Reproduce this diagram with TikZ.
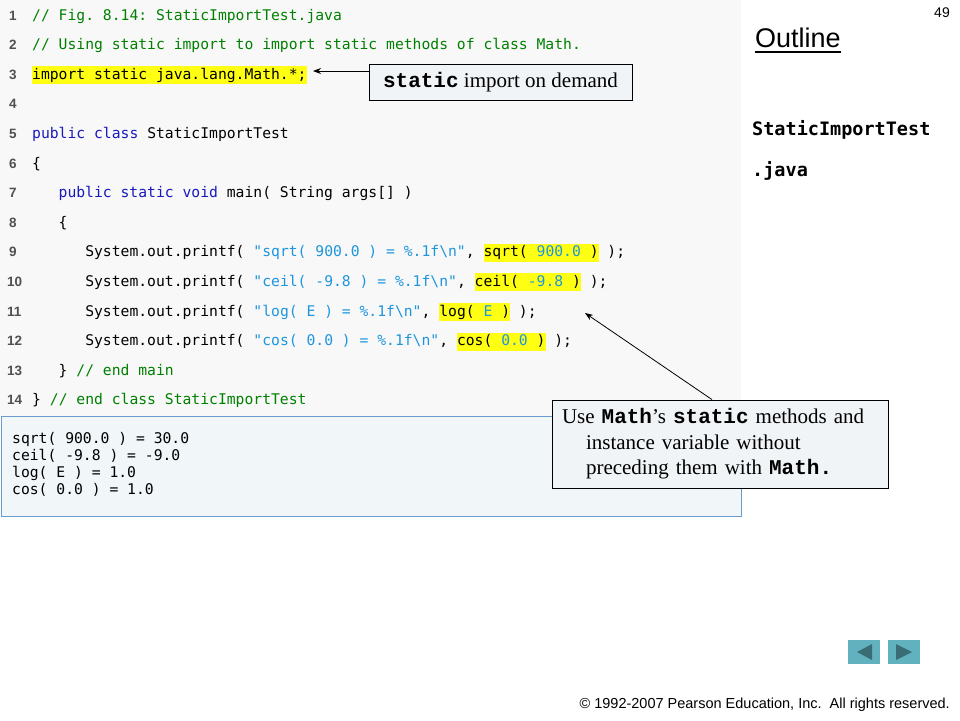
\documentclass[tikz,border=0pt]{standalone}
\usepackage{fontspec}
\setmainfont{Liberation Serif}
\newfontfamily\codefont{DejaVu Sans Mono}
\newfontfamily\arialfont{Liberation Sans}
\newfontfamily\courfont{Liberation Mono}
\usetikzlibrary{arrows.meta}

\definecolor{codebg}{RGB}{248,248,248}
\definecolor{outbg}{RGB}{241,246,248}
\definecolor{outborder}{RGB}{105,155,205}
\definecolor{callbg}{RGB}{240,244,246}
\definecolor{cmtgreen}{RGB}{0,128,0}
\definecolor{kwblue}{RGB}{25,25,190}
\definecolor{strblue}{RGB}{30,150,220}
\definecolor{hlyellow}{RGB}{255,255,20}
\definecolor{lngray}{RGB}{80,80,80}
\definecolor{navteal}{RGB}{98,177,191}
\definecolor{navdark}{RGB}{58,108,118}

\newcommand{\kw}[1]{\textcolor{kwblue}{#1}}
\newcommand{\cmt}[1]{\textcolor{cmtgreen}{#1}}
\newcommand{\jstr}[1]{\textcolor{strblue}{#1}}
\newcommand{\hlt}[1]{{\setlength{\fboxsep}{0pt}\colorbox{hlyellow}{\rule[-5pt]{0pt}{18pt}#1}}}
\newcommand{\cb}[1]{{\courfont\bfseries #1}}

\begin{document}
\begin{tikzpicture}[x=1pt,y=-1pt,
    lnum/.style={anchor=base west, inner sep=0pt, text=lngray,
      font=\arialfont\bfseries\fontsize{13.5}{15}\selectfont},
    code/.style={anchor=base west, inner sep=0pt,
      font=\codefont\fontsize{14.7}{17}\selectfont\frenchspacing},
    callout/.style={draw=black, fill=callbg, line width=0.8pt, inner sep=0pt,
      font=\fontsize{21}{25.5}\selectfont},
    arrowline/.style={-{Stealth[length=8pt,width=6pt]}, line width=0.8pt}]
  \useasboundingbox (0,0) rectangle (960,720);

  % Draw the code panel and the output box
  \fill[codebg] (0,0) rectangle (741,416);
  \draw[outborder, fill=outbg, line width=0.8pt] (1,416) rectangle (741,516);

  % Line numbers
  \node[lnum] (n1) at (9,20) {1};
  \node[lnum] (n2) at (9,49.6) {2};
  \node[lnum] (n3) at (9,79.2) {3};
  \node[lnum] (n4) at (9,108.8) {4};
  \node[lnum] (n5) at (9,138.4) {5};
  \node[lnum] (n6) at (9,168) {6};
  \node[lnum] (n7) at (9,197.6) {7};
  \node[lnum] (n8) at (9,227.2) {8};
  \node[lnum] (n9) at (9,256.8) {9};
  \node[lnum] (n10) at (7,286.4) {10};
  \node[lnum] (n11) at (7,316) {11};
  \node[lnum] (n12) at (7,345.6) {12};
  \node[lnum] (n13) at (7,375.2) {13};
  \node[lnum] (n14) at (7,404.8) {14};

  % Code lines
  \node[code] (c1) at (32,20) {\cmt{// Fig. 8.14: StaticImportTest.java}};
  \node[code] (c2) at (32,49.6) {\cmt{// Using static import to import static methods of class Math.}};
  \node[code] (c3) at (32,79.2) {\hlt{import static java.lang.Math.*;}};
  \node[code] (c5) at (32,138.4) {\kw{public class} StaticImportTest};
  \node[code] (c6) at (32,168) {\{};
  \node[code] (c7) at (58.5,197.6) {\kw{public static void} main( String args[] )};
  \node[code] (c8) at (58.5,227.2) {\{};
  \node[code] (c9) at (85.1,256.8) {System.out.printf( \jstr{"sqrt( 900.0 ) = \%.1f\textbackslash n"}, \hlt{sqrt( \jstr{900.0} )} );};
  \node[code] (c10) at (85.1,286.4) {System.out.printf( \jstr{"ceil( -9.8 ) = \%.1f\textbackslash n"}, \hlt{ceil( \jstr{-9.8} )} );};
  \node[code] (c11) at (85.1,316) {System.out.printf( \jstr{"log( E ) = \%.1f\textbackslash n"}, \hlt{log( \jstr{E} )} );};
  \node[code] (c12) at (85.1,345.6) {System.out.printf( \jstr{"cos( 0.0 ) = \%.1f\textbackslash n"}, \hlt{cos( \jstr{0.0} )} );};
  \node[code] (c13) at (58.5,375.2) {\} \cmt{// end main}};
  \node[code] (c14) at (32,404.8) {\} \cmt{// end class StaticImportTest}};

  % Program output
  \node[code, anchor=north west, align=left] (out) at (12,432)
    {sqrt( 900.0 ) = 30.0\\ceil( -9.8 ) = -9.0\\log( E ) = 1.0\\cos( 0.0 ) = 1.0};

  % Callouts
  \node[callout, minimum width=263pt, minimum height=36pt] (callA) at (500.5,82)
    {\cb{static} import on demand};
  \node[callout, minimum width=336pt, minimum height=88pt, text width=316pt, align=left] (callB) at (720,444)
    {Use \cb{Math}'s \cb{static} methods and\\\hspace*{24pt}instance variable without\\\hspace*{24pt}preceding them with \cb{Math.}};
  \coordinate (tipA) at (313,71);
  \coordinate (tipB) at (585,313);
  \draw[arrowline] (callA.west |- tipA) -- (tipA);
  \draw[arrowline] ([xshift=-8pt]callB.north) -- (tipB);

  % Right column
  \node[anchor=base east, inner sep=0pt, font=\arialfont\fontsize{14}{16}\selectfont] (pgnum) at (950,17) {49};
  \node[anchor=base west, inner sep=0pt, font=\arialfont\fontsize{27}{30}\selectfont] (outline) at (755,47) {Outline};
  \draw[line width=1.2pt] ([yshift=-5pt]outline.base west) -- ([yshift=-5pt]outline.base east);
  \node[anchor=base west, inner sep=0pt, font=\codefont\bfseries\fontsize{18.5}{20}\selectfont] (fname) at (752,135) {StaticImportTest};
  \node[anchor=base west, inner sep=0pt, font=\codefont\bfseries\fontsize{18.5}{20}\selectfont] (fext) at (752,176) {.java};

  % Navigation buttons
  \fill[navteal] (848,640) rectangle (880,664);
  \fill[navdark] (857,652) -- (872,644) -- (872,660) -- cycle;
  \fill[navteal] (888,640) rectangle (920,664);
  \fill[navdark] (912,652) -- (896,644) -- (896,660) -- cycle;

  % Copyright line
  \node[anchor=base east, inner sep=0pt, font=\arialfont\fontsize{14.5}{16}\selectfont] (copy) at (950,708)
    {© 1992-2007 Pearson Education, Inc.\ \ All rights reserved.};
\end{tikzpicture}
\end{document}
